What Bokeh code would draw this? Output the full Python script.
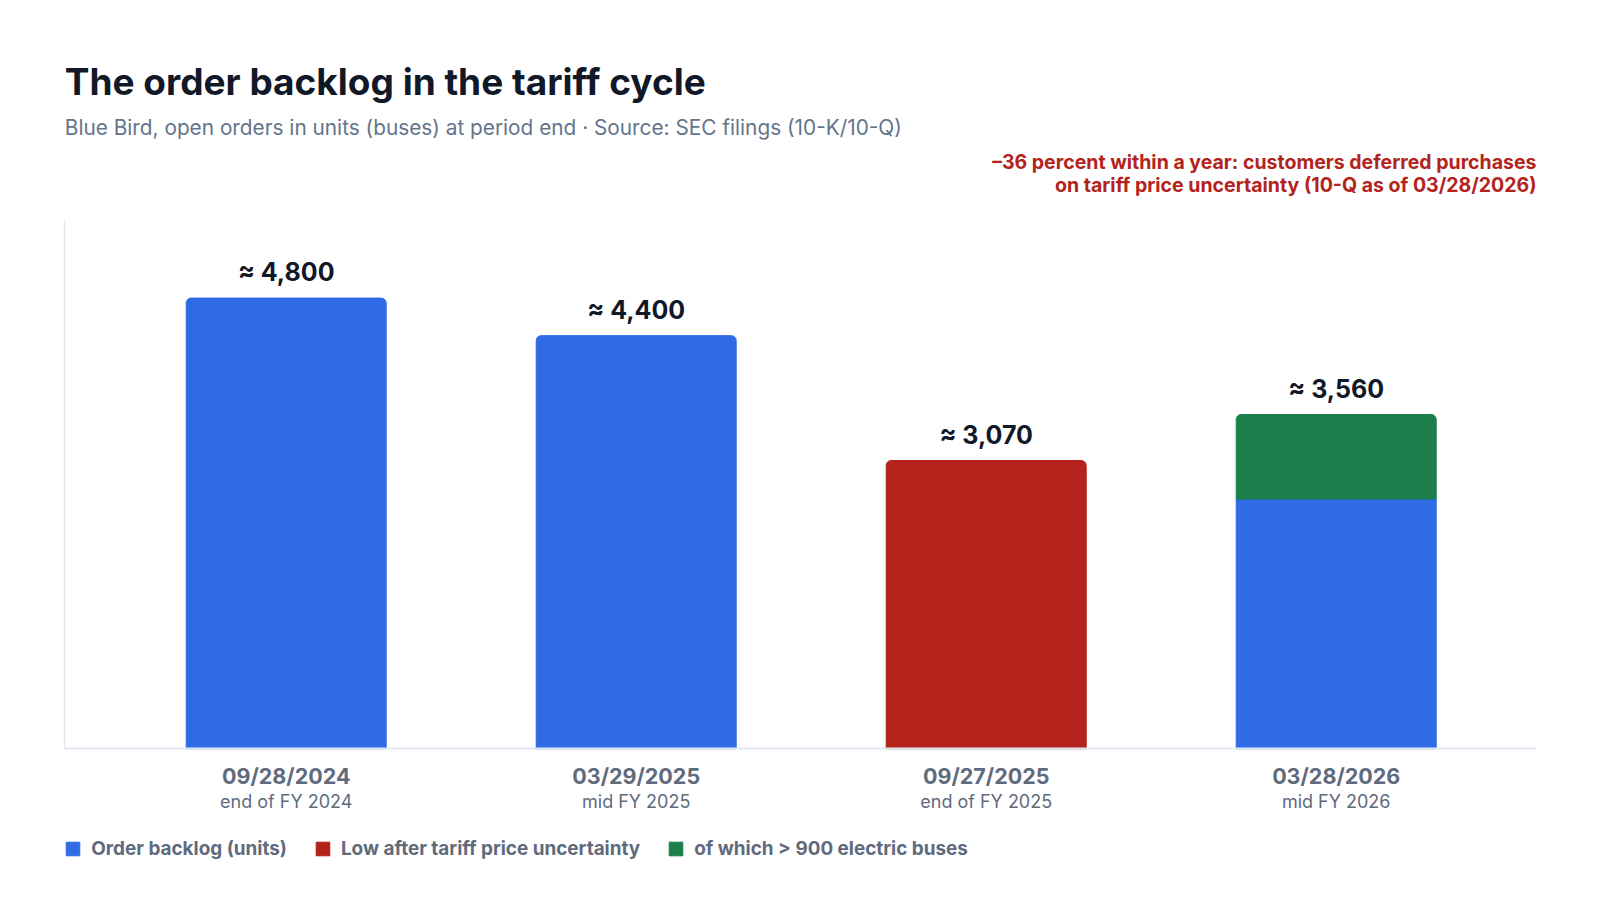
from bokeh.plotting import figure
from bokeh.models import (Range1d, FixedTicker, LinearAxis, Label, Legend,
                          LegendItem, ColumnDataSource)
from bokeh.core.properties import value
from bokeh.embed import file_html
from bokeh.resources import INLINE

# ---- data ----
dates = ["09/28/2024", "03/29/2025", "09/27/2025", "03/28/2026"]
periods = ["end of FY 2024", "mid FY 2025", "end of FY 2025", "mid FY 2026"]
backlog = [4800, 4400, 3070, 3560]
electric = [0, 0, 0, 900]
is_low = [False, False, True, False]

title = "The order backlog in the tariff cycle"
subtitle = "Blue Bird, open orders in units (buses) at period end · Source: SEC filings (10-K/10-Q)"
note_lines = ["\u201336 percent within a year: customers deferred purchases",
              "on tariff price uncertainty (10-Q as of 03/28/2026)"]
legend_labels = ["Order backlog (units)", "Low after tariff price uncertainty",
                 "of which > 900 electric buses"]

# ---- style ----
BLUE = "#2F6BE4"
RED = "#B3231B"
GREEN = "#1C7E4B"
DARK = "#111827"
GRAY = "#5F6B7D"
SUBGRAY = "#64748B"
FONT = "Inter"

W, H = 1584, 884
xs = list(range(len(dates)))

full_x = [x for x, l, e in zip(xs, is_low, electric) if not l and e == 0]
full_top = [b for b, l, e in zip(backlog, is_low, electric) if not l and e == 0]
base_x = [x for x, l, e in zip(xs, is_low, electric) if not l and e > 0]
base_top = [b - e for b, l, e in zip(backlog, is_low, electric) if not l and e > 0]
low_x = [x for x, l in zip(xs, is_low) if l]
low_top = [b for b, l in zip(backlog, is_low) if l]
el_x = [x for x, e in zip(xs, electric) if e > 0]
el_bottom = [b - e for b, e in zip(backlog, electric) if e > 0]
el_top = [b for b, e in zip(backlog, electric) if e > 0]

# plot area of the chart inside the canvas (pixels) and its data extent
PX_PER_CAT = 350.0
FIRST_CENTER = 285.7
AXIS_LEFT, AXIS_RIGHT = 64.3, 1536.0
BASE_Y = 748.3
Y_TOP = 5625
PX_PER_UNIT = 0.0939

x_start = -FIRST_CENTER / PX_PER_CAT
x_end = x_start + W / PX_PER_CAT
y_start = -(H - BASE_Y) / PX_PER_UNIT
y_end = BASE_Y / PX_PER_UNIT
x_left = x_start + AXIS_LEFT / PX_PER_CAT
x_right = x_start + AXIS_RIGHT / PX_PER_CAT

p = figure(width=W, height=H, title=None,
           x_range=Range1d(x_start, x_end), y_range=Range1d(y_start, y_end),
           output_backend="svg", toolbar_location=None,
           min_border_left=0, min_border_right=0,
           min_border_top=0, min_border_bottom=0)
p.xgrid.visible = False
p.ygrid.visible = False
p.outline_line_color = None
p.background_fill_color = "white"
p.border_fill_color = "white"

BW = 0.5714
r_full = p.vbar(x="x", top="top", width=BW, bottom=0, color=BLUE,
                border_radius=(5, 5, 0, 0),
                source=ColumnDataSource(dict(x=full_x, top=full_top)))
p.vbar(x="x", top="top", width=BW, bottom=0, color=BLUE,
       source=ColumnDataSource(dict(x=base_x, top=base_top)))
r_low = p.vbar(x="x", top="top", width=BW, bottom=0, color=RED,
               border_radius=(5, 5, 0, 0),
               source=ColumnDataSource(dict(x=low_x, top=low_top)))
r_el = p.vbar(x="x", top="top", bottom="bottom", width=BW, color=GREEN,
              border_radius=(5, 5, 0, 0),
              source=ColumnDataSource(dict(x=el_x, top=el_top, bottom=el_bottom)))

p.text(x=xs, y=backlog, text=["\u2248 {:,}".format(b) for b in backlog],
       text_align="center", text_baseline="alphabetic", y_offset=-26,
       text_font=value(FONT), text_font_style="bold",
       text_font_size="25px", text_color=DARK)

# y axis: only its line
ya = p.yaxis[0]
ya.fixed_location = x_left
ya.bounds = (0, Y_TOP)
ya.ticker = FixedTicker(ticks=[])
ya.axis_line_color = "#E5E7EB"
ya.axis_line_width = 1.5
ya.major_tick_line_color = None
ya.minor_tick_line_color = None
ya.major_tick_out = 0
ya.major_label_text_font_size = "0px"

# x axis: dates
xa = p.xaxis[0]
xa.fixed_location = 0
xa.bounds = (x_left, x_right)
xa.ticker = FixedTicker(ticks=xs)
xa.major_label_overrides = {x: d for x, d in zip(xs, dates)}
xa.axis_line_color = "#E2E8F0"
xa.axis_line_width = 2
xa.major_tick_line_color = None
xa.minor_tick_line_color = None
xa.major_tick_out = 0
xa.major_label_standoff = 14
xa.major_label_text_font = FONT
xa.major_label_text_font_style = "bold"
xa.major_label_text_font_size = "21.5px"
xa.major_label_text_color = GRAY

# x axis: period names under the dates
xb = LinearAxis(ticker=FixedTicker(ticks=xs), fixed_location=0,
                major_label_overrides={x: s for x, s in zip(xs, periods)},
                axis_line_color=None, major_tick_line_color=None,
                minor_tick_line_color=None, major_tick_out=0,
                major_label_standoff=42,
                major_label_text_font=FONT, major_label_text_font_size="18px",
                major_label_text_color=GRAY)
p.add_layout(xb, "below")

# header texts (screen px from the bottom-left of the canvas)
p.add_layout(Label(x=AXIS_LEFT, y=H - 81, x_units="screen", y_units="screen",
                   text=title, text_font=FONT, text_font_style="bold",
                   text_font_size="37px", text_color=DARK,
                   text_baseline="alphabetic"))
p.add_layout(Label(x=AXIS_LEFT, y=H - 126.5, x_units="screen", y_units="screen",
                   text=subtitle, text_font=FONT, text_font_size="20.8px",
                   text_color=SUBGRAY, text_baseline="alphabetic"))
p.add_layout(Label(x=AXIS_RIGHT, y=H - 161, x_units="screen", y_units="screen",
                   text=note_lines[0], text_font=FONT, text_font_style="bold",
                   text_font_size="19.5px", text_color=RED,
                   text_align="right", text_baseline="alphabetic"))
p.add_layout(Label(x=AXIS_RIGHT, y=H - 184.5, x_units="screen", y_units="screen",
                   text=note_lines[1], text_font=FONT, text_font_style="bold",
                   text_font_size="19.5px", text_color=RED,
                   text_align="right", text_baseline="alphabetic"))

legend = Legend(items=[LegendItem(label=legend_labels[0], renderers=[r_full]),
                       LegendItem(label=legend_labels[1], renderers=[r_low]),
                       LegendItem(label=legend_labels[2], renderers=[r_el])],
                location=(AXIS_LEFT, 24), orientation="horizontal",
                glyph_width=17, glyph_height=17, label_standoff=10, spacing=27,
                padding=0, margin=0, border_line_color=None,
                background_fill_alpha=0,
                label_text_font=FONT, label_text_font_style="bold",
                label_text_font_size="18.9px", label_text_color=GRAY)
p.add_layout(legend, "center")

open("out.html", "w").write(file_html(p, INLINE))
